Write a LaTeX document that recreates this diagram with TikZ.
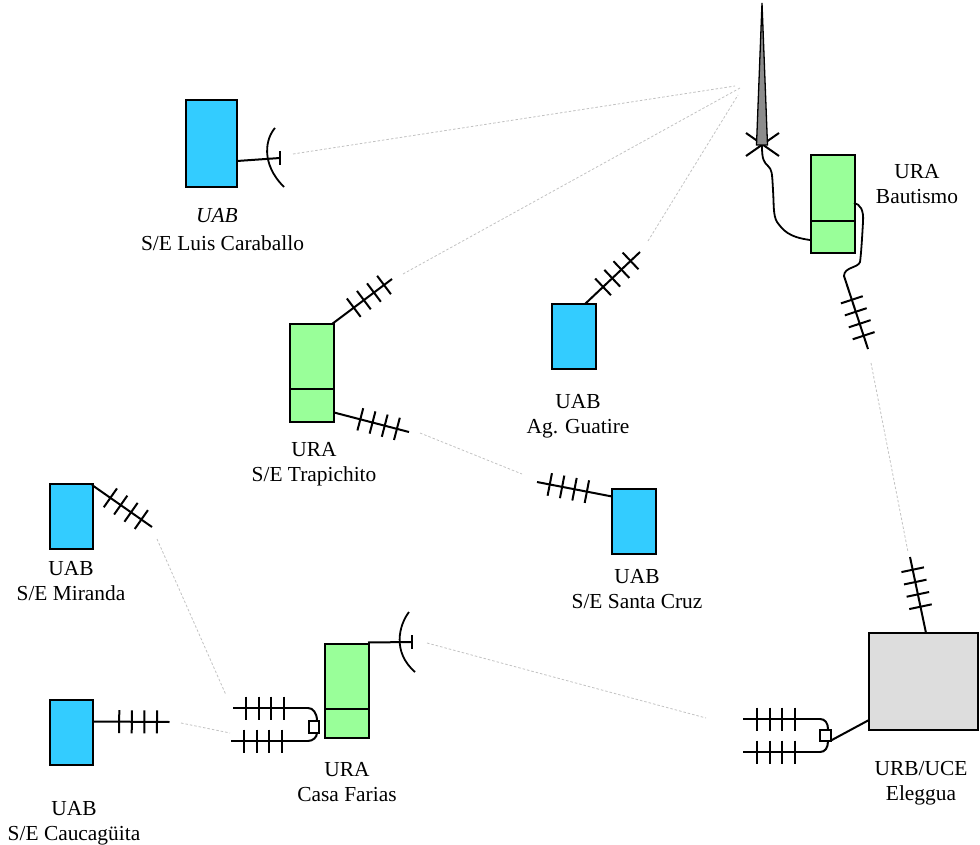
\documentclass[tikz,border=0pt]{standalone}
\usepackage{fontspec}
\setmainfont{Liberation Serif}
\usetikzlibrary{calc}
\definecolor{uabblue}{RGB}{51,204,255}
\definecolor{uragreen}{RGB}{153,255,153}
\definecolor{urbgray}{RGB}{221,221,221}
\tikzset{
  x=1pt,y=-1pt,
  wire/.style={draw=black,line width=2pt},
  cable/.style={draw=black,line width=1.8pt,line join=round},
  unitbox/.style={draw=black,line width=2pt,inner sep=0pt,outer sep=0pt},
  uab/.style={unitbox,fill=uabblue},
  ura/.style={unitbox,fill=uragreen},
  urb/.style={unitbox,fill=urbgray},
  feedbox/.style={unitbox,fill=white},
  radiolink/.style={draw=black!24,line width=0.8pt,dash pattern=on 2.5pt off 2pt},
  lbl/.style={align=center,inner sep=0pt,font=\fontsize{21.4}{25}\selectfont},
}
% yagi: tip name, feed name, distance of first element from the tip
\newcommand{\yagi}[3]{%
  \draw[wire] (#1) -- (#2);
  \foreach \d in {0,1,2,3}{
    \pgfmathsetmacro{\dd}{#3+12.6*\d}
    \coordinate (yc) at ($(#1)!\dd pt!(#2)$);
    \draw[wire] ($(yc)!11.5pt!90:(#2)$) -- ($(yc)!11.5pt!-90:(#2)$);
  }}
\begin{document}
\begin{tikzpicture}
\useasboundingbox (0,0) rectangle (980,845);

% radio links
\coordinate (d1a) at (293,154); \coordinate (d1b) at (735,86);
\coordinate (d2a) at (403,274); \coordinate (d2b) at (740,88);
\coordinate (d3a) at (648,241); \coordinate (d3b) at (738,95);
\coordinate (d4a) at (420,433); \coordinate (d4b) at (522,474);
\coordinate (d5a) at (871,363); \coordinate (d5b) at (908,552);
\coordinate (d6a) at (157,539); \coordinate (d6b) at (226,695);
\coordinate (d7a) at (181,723); \coordinate (d7b) at (230,733);
\coordinate (d8a) at (427,643); \coordinate (d8b) at (706,718);
\foreach \k in {1,...,8}{\draw[radiolink] (d\k a) -- (d\k b);}

% tower
\coordinate (towertop) at (762,3);
\coordinate (towerl) at (756.5,145);
\coordinate (towerr) at (767.5,145);
\coordinate (xa) at (746,133); \coordinate (xb) at (779,156);
\coordinate (xc) at (746,156); \coordinate (xd) at (779,133);
\draw[wire] (xa) -- (xb);
\draw[wire] (xc) -- (xd);
\draw[line width=1.3pt,fill=black!45,line join=miter] (towertop) -- (towerr) -- (towerl) -- cycle;

% Bautismo
\path[ura] (811,155) rectangle (855,253);
\draw[wire] (811,221) -- (855,221);
\coordinate (bautl) at (810,240);
\coordinate (bautr) at (854,203);
\coordinate (bauttip) at (868,349);
\coordinate (bautfeed) at (844,276);
\draw[cable] (762,146) .. controls (762,160) and (764,162) .. (768,166)
  .. controls (772,170) and (772,172) .. (773,190) .. controls (774,205) and (773,215) .. (777,222)
  .. controls (783,230) and (788,237) .. (bautl);
\draw[cable] (bautr) .. controls (860,204) and (864,210) .. (863,222)
  .. controls (862,240) and (861,255) .. (860,262) .. controls (858,268) and (844,267) .. (bautfeed);
\yagi{bauttip}{bautfeed}{14}
\node[lbl] (lblbaut) at (917,184) {URA\\Bautismo};

% Luis Caraballo
\path[uab] (186,100) rectangle (237,187);
\coordinate (lcbox) at (237,161);
\coordinate (lcdish) at (280,158);
\draw[wire] (lcbox) -- (lcdish);
\draw[wire] (280,151) -- (280,165);
\draw[cable] (275,128) .. controls (266,138) and (260,163) .. (284,187);
\node[lbl,font=\fontsize{21.4}{28}\selectfont] (lbllc) at (222.5,229.5) {\textit{UAB}\hspace*{11pt}\\S/E Luis Caraballo};

% Trapichito
\path[ura] (290,324) rectangle (334,422);
\draw[wire] (290,389) -- (334,389);
\coordinate (t1tip) at (392,279); \coordinate (t1feed) at (332,324);
\coordinate (t2tip) at (409,432); \coordinate (t2feed) at (334,412.5);
\yagi{t1tip}{t1feed}{10}
\yagi{t2tip}{t2feed}{12.5}
\node[lbl] (lbltr) at (314,464) {URA\\S/E Trapichito};

% Guatire
\path[uab] (552,304) rectangle (596,369);
\coordinate (gtip) at (640,252); \coordinate (gfeed) at (585,304);
\yagi{gtip}{gfeed}{13}
\node[lbl] (lblg) at (578,416) {UAB\\Ag. Guatire};

% Santa Cruz
\path[uab] (612,489) rectangle (656,554);
\coordinate (stip) at (537,482); \coordinate (sfeed) at (612,496.5);
\yagi{stip}{sfeed}{13}
\node[lbl] (lbls) at (637,589) {UAB\\S/E Santa Cruz};

% Miranda
\path[uab] (50,484) rectangle (93,549);
\coordinate (mtip) at (152,527); \coordinate (mfeed) at (92,485);
\yagi{mtip}{mfeed}{13}
\node[lbl] (lblm) at (71,581) {UAB\\S/E Miranda};

% Caucaguita
\path[uab] (50,700) rectangle (93,765);
\coordinate (ctip) at (169.5,722); \coordinate (cfeed) at (93,721.5);
\yagi{ctip}{cfeed}{12.5}
\node[lbl] (lblc) at (74,823) {UAB\\S/E Caucagüita};

% Casa Farias
\path[ura] (325,643.5) rectangle (369,738);
\draw[wire] (325,709) -- (369,709);
\coordinate (cfbox) at (368,642.5);
\coordinate (cfdish) at (412,642);
\draw[wire] (cfbox) -- (cfdish);
\draw[wire] (412,635) -- (412,649);
\draw[cable] (409,612) .. controls (399,625) and (392,652) .. (415,672);
\coordinate (f1tip) at (233,708); \coordinate (f1end) at (308,708);
\coordinate (f2tip) at (231,741); \coordinate (f2end) at (308,741);
\yagi{f1tip}{f1end}{13}
\yagi{f2tip}{f2end}{13}
\draw[wire] (f1end) .. controls (313,708) and (317,713) .. (317,721);
\draw[wire] (f2end) .. controls (313,741) and (317,737) .. (317,733);
\path[feedbox] (308.5,721) rectangle (319,732.5);
\node[lbl] (lblf) at (347,782) {URA\\Casa Farias};

% Eleggua
\path[urb] (869,633) rectangle (978,730);
\coordinate (etip) at (910,557); \coordinate (efeed) at (926,633);
\yagi{etip}{efeed}{13}
\coordinate (e1tip) at (743,719); \coordinate (e1end) at (820,719);
\coordinate (e2tip) at (743,752); \coordinate (e2end) at (820,752);
\yagi{e1tip}{e1end}{14}
\yagi{e2tip}{e2end}{14}
\draw[wire] (e1end) .. controls (825,719) and (828,723) .. (828,729);
\draw[wire] (e2end) .. controls (825,752) and (828,748) .. (828,741);
\path[feedbox] (820,729.5) rectangle (830.5,741);
\coordinate (elbox) at (869,720);
\coordinate (elfeed) at (830,741);
\draw[wire] (elfeed) -- (elbox);
\node[lbl] (lble) at (921,783) {URB/UCE\\Eleggua};
\end{tikzpicture}
\end{document}
